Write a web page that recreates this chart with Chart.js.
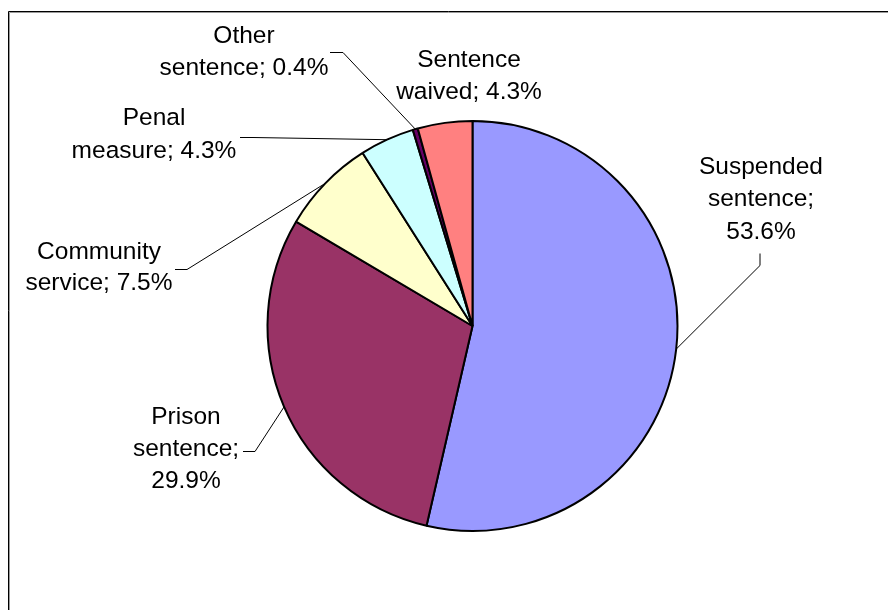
<!DOCTYPE html>
<html>
<head>
<meta charset="utf-8">
<script src="https://cdn.jsdelivr.net/npm/chart.js@4"></script>
<style>
  html, body { margin: 0; padding: 0; background: #ffffff; }
  canvas { display: block; }
</style>
</head>
<body>
<canvas id="chart" width="888" height="610"></canvas>
<script>
// Sentences handed down, share of all cases (%)
const categories = ['Suspended sentence', 'Prison sentence', 'Community service', 'Penal measure', 'Other sentence', 'Sentence waived'];
const shares = [53.6, 29.9, 7.5, 4.3, 0.4, 4.3];
const sliceColors = ['#9999FF', '#993366', '#FFFFCC', '#CCFFFF', '#660066', '#FF8080'];

// Where each data label sits, how its words break into lines, and its leader line
const labelLayout = [
  { x: 761, y: 167, lh: 32.5, lines: [1, 1, 1], leader: [[760, 253], [760, 265]] },
  { x: 186, y: 417, lh: 32,   lines: [1, 1, 1], leader: [[243, 451], [255, 451]] },
  { x: 99,  y: 252, lh: 31,   lines: [1, 2],    leader: [[175, 269], [187, 269]] },
  { x: 154, y: 118, lh: 33,   lines: [1, 2],    leader: [[240, 137], [253, 137]] },
  { x: 244, y: 36,  lh: 32,   lines: [1, 2],    leader: [[330, 52], [343, 52]] },
  { x: 469, y: 60,  lh: 32,   lines: [1, 2],    leader: null }
];

const LABEL_FONT = '24.5px "Liberation Sans", Arial, sans-serif';

function labelLines(i) {
  const words = (categories[i] + '; ' + shares[i].toFixed(1) + '%').split(' ');
  const out = [];
  let k = 0;
  for (const n of labelLayout[i].lines) {
    out.push(words.slice(k, k + n).join(' '));
    k += n;
  }
  return out;
}

const framePlugin = {
  id: 'frame',
  beforeDraw(chart) {
    const ctx = chart.ctx;
    ctx.save();
    ctx.fillStyle = '#ffffff';
    ctx.fillRect(0, 0, chart.width, chart.height);
    ctx.lineWidth = 1;
    ctx.strokeStyle = '#000000';
    ctx.beginPath();
    ctx.moveTo(8.5, chart.height);
    ctx.lineTo(8.5, 11.5);
    ctx.lineTo(chart.width, 11.5);
    ctx.stroke();
    ctx.strokeStyle = '#9a9a9a';
    ctx.beginPath();
    ctx.moveTo(9.5, chart.height);
    ctx.lineTo(9.5, 12.5);
    ctx.lineTo(chart.width, 12.5);
    ctx.stroke();
    ctx.restore();
  }
};

const labelPlugin = {
  id: 'sliceLabels',
  afterDatasetsDraw(chart) {
    const ctx = chart.ctx;
    const arcs = chart.getDatasetMeta(0).data;
    ctx.save();
    ctx.font = LABEL_FONT;
    ctx.fillStyle = '#000000';
    ctx.textAlign = 'center';
    ctx.textBaseline = 'middle';
    arcs.forEach((arc, i) => {
      const L = labelLayout[i];
      labelLines(i).forEach((t, j) => ctx.fillText(t, L.x, L.y + j * L.lh));
      if (L.leader) {
        const p = arc.getProps(['x', 'y', 'startAngle', 'endAngle', 'outerRadius'], true);
        const mid = (p.startAngle + p.endAngle) / 2;
        const ex = p.x + Math.cos(mid) * p.outerRadius;
        const ey = p.y + Math.sin(mid) * p.outerRadius;
        ctx.strokeStyle = '#000000';
        ctx.lineWidth = 1;
        ctx.beginPath();
        ctx.moveTo(L.leader[0][0], L.leader[0][1] + 0.5);
        ctx.lineTo(L.leader[1][0], L.leader[1][1] + 0.5);
        ctx.lineTo(ex, ey);
        ctx.stroke();
      }
    });
    ctx.restore();
  }
};

new Chart(document.getElementById('chart'), {
  type: 'pie',
  data: {
    labels: categories,
    datasets: [{
      data: shares,
      backgroundColor: sliceColors,
      borderColor: '#000000',
      borderWidth: 2,
      radius: 205
    }]
  },
  options: {
    responsive: false,
    animation: false,
    layout: { padding: { left: 57, top: 42, right: 0, bottom: 0 } },
    plugins: {
      legend: { display: false },
      tooltip: { enabled: false }
    }
  },
  plugins: [framePlugin, labelPlugin]
});
</script>
</body>
</html>
